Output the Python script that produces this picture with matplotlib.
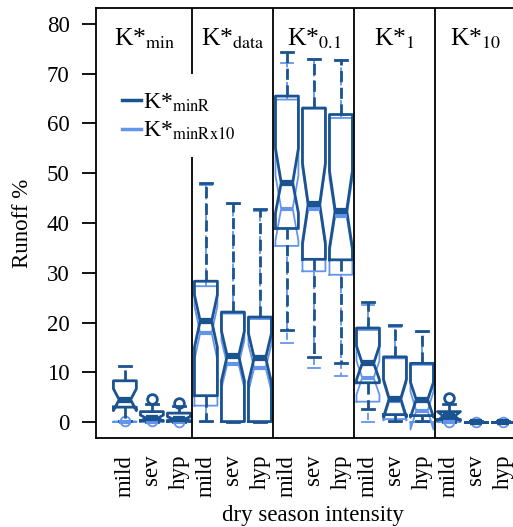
import numpy as np
import matplotlib
matplotlib.use("Agg")
import matplotlib.pyplot as plt
from matplotlib.lines import Line2D

plt.rcParams['font.family'] = ['Liberation Serif', 'DejaVu Serif']
plt.rcParams['mathtext.fontset'] = 'stix'

# categories
panels = [r"K*$_{\rm min}$", r"K*$_{\rm data}$", r"K*$_{0.1}$", r"K*$_{1}$", r"K*$_{10}$"]
intensity = ["mild", "sev", "hyp"]
series = [r"K*$_{\rm minR}$", r"K*$_{\rm minRx10}$"]

# K*minR boxes (15 groups: 5 panels x 3 intensities)
dark_lo = [0.3, 0.0, 0.0, 0.3, 0.1, 0.1, 18.6, 13.1, 11.9, 2.6, 0.3, 0.3, 0.0, 0.0, 0.0]
dark_q1 = [3.0, 0.3, 0.2, 5.3, 0.1, 0.1, 38.9, 32.7, 32.6, 7.9, 1.5, 1.3, 0.5, 0.0, 0.0]
dark_med = [4.5, 0.8, 0.6, 20.3, 13.3, 12.9, 48.1, 43.8, 42.5, 11.8, 4.7, 4.5, 1.2, 0.0, 0.0]
dark_q3 = [8.3, 2.1, 1.8, 28.3, 22.1, 21.1, 65.5, 63.1, 61.8, 18.9, 13.1, 11.8, 2.1, 0.1, 0.1]
dark_hi = [11.3, 3.6, 3.3, 48.1, 44.1, 42.9, 74.3, 72.9, 72.7, 24.1, 19.6, 18.4, 3.6, 0.2, 0.2]
dark_cilo = [2.3, 0.2, 0.1, 15.0, 8.3, 8.0, 42.0, 36.0, 35.0, 8.5, 1.0, 1.0, 0.3, 0.0, 0.0]
dark_cihi = [6.7, 1.4, 1.1, 25.6, 18.3, 17.8, 55.0, 52.0, 50.5, 15.3, 8.6, 8.0, 2.1, 0.0, 0.0]
dark_out = [[], [4.7], [3.9], [], [], [], [], [], [], [], [], [], [4.9], [], []]

# K*minRx10 boxes
light_lo = [0.0, 0.0, 0.0, 0.0, 0.0, 0.0, 15.8, 10.9, 9.3, 0.1, 0.0, 0.0, 0.0, 0.0, 0.0]
light_q1 = [0.0, 0.0, 0.0, 3.3, 0.0, 0.0, 35.4, 30.3, 29.6, 4.1, 0.6, 0.0, 0.0, 0.0, 0.0]
light_med = [0.0, 0.0, 0.1, 17.9, 11.6, 10.9, 42.9, 42.9, 41.4, 8.9, 4.2, 2.3, 0.1, 0.0, 0.0]
light_q3 = [0.1, 0.1, 0.5, 27.3, 21.8, 20.7, 64.8, 63.0, 61.1, 18.5, 12.8, 11.5, 0.3, 0.1, 0.1]
light_hi = [0.2, 0.2, 0.7, 47.6, 43.8, 42.5, 72.2, 72.9, 72.7, 23.5, 19.2, 18.0, 0.5, 0.2, 0.2]
light_cilo = [0.0, 0.0, 0.0, 12.5, 6.8, 6.2, 36.5, 35.0, 34.0, 5.5, 0.3, -1.5, 0.0, 0.0, 0.0]
light_cihi = [0.1, 0.1, 0.3, 23.3, 16.4, 15.6, 49.5, 51.0, 49.0, 12.3, 8.0, 6.1, 0.2, 0.0, 0.0]
light_out = [[0.3], [0.3], [0.1], [], [], [], [], [], [], [], [], [], [0.1], [0.0], [0.0]]

dark = "#1B5391"
light = "#6495ED"


def make_stats(lo, q1, med, q3, hi, cilo, cihi, out):
    return [dict(whislo=a, q1=b, med=c, q3=d, whishi=e, cilo=f, cihi=g, fliers=h)
            for a, b, c, d, e, f, g, h in zip(lo, q1, med, q3, hi, cilo, cihi, out)]


dark_stats = make_stats(dark_lo, dark_q1, dark_med, dark_q3, dark_hi, dark_cilo, dark_cihi, dark_out)
light_stats = make_stats(light_lo, light_q1, light_med, light_q3, light_hi, light_cilo, light_cihi, light_out)

pos = np.arange(1, 16)

fig = plt.figure(figsize=(5.13, 5.27), dpi=100)
ax = fig.add_axes([96 / 513, 1 - 438 / 527, 434 / 513, 430 / 527])

for st, col, lw, mlw in [(light_stats, light, 1.3, 3.0), (dark_stats, dark, 2.0, 4.5)]:
    ax.bxp(st, positions=pos, widths=0.85, shownotches=True, capwidths=0.45,
           manage_ticks=False,
           boxprops=dict(color=col, linewidth=lw),
           whiskerprops=dict(color=col, linewidth=lw, linestyle=(0, (4, 2))),
           capprops=dict(color=col, linewidth=lw),
           medianprops=dict(color=col, linewidth=mlw, solid_capstyle='butt'),
           flierprops=dict(marker='o', markerfacecolor='none', markeredgecolor=col,
                           markersize=7, markeredgewidth=lw))

ax.set_xlim(-0.07, 16)
ax.set_ylim(-3.2, 83.2)

# panel separators
ax.vlines(3.5, 70, 83.2, color='black', linewidth=1.3)
ax.vlines(3.5, -3.2, 53.2, color='black', linewidth=1.3)
for xs in [6.5, 9.5, 12.5]:
    ax.axvline(xs, color='black', linewidth=1.3)

for xc, name in zip([1.72, 5, 8, 11, 14], panels):
    ax.text(xc, 77, name, ha='center', va='center', fontsize=18.5)

ax.set_yticks(np.arange(0, 81, 10))
ax.set_xticks(pos)
ax.set_xticklabels(intensity * 5, rotation=90, fontsize=16.5)
ax.tick_params(axis='x', length=0, pad=12)
ax.tick_params(axis='y', length=10, width=1.3, pad=9, labelsize=16.5)
for s in ax.spines.values():
    s.set_linewidth(1.3)

ax.set_ylabel("Runoff %", fontsize=16.5, labelpad=10)
ax.set_xlabel("dry season intensity", fontsize=16.5, labelpad=6)

handles = [Line2D([], [], color=dark, linewidth=2.5), Line2D([], [], color=light, linewidth=2.5)]
ax.legend(handles, series, loc='upper left', bbox_to_anchor=(0.89, 66.4),
          bbox_transform=ax.transData, frameon=False, fontsize=17,
          handlelength=0.8, handletextpad=0.1, labelspacing=0.25, borderpad=0,
          borderaxespad=0)

fig.savefig("out.png", dpi=100)
